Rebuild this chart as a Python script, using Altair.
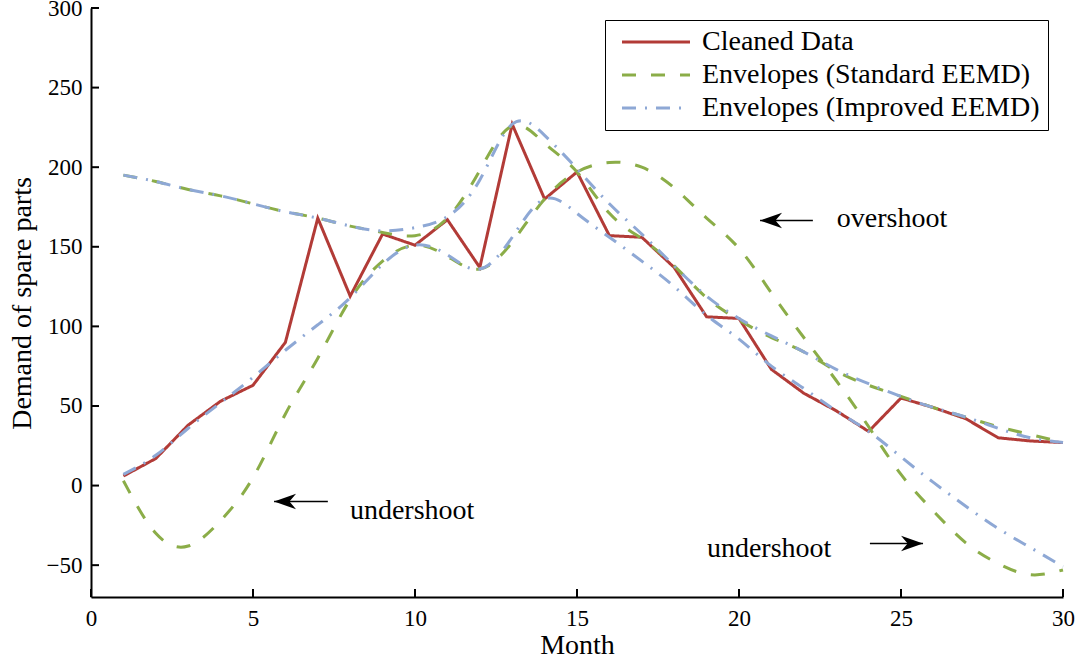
import altair as alt
import pandas as pd

# ---------------- data ----------------
months = list(range(1, 31))
cleaned = [6, 17, 38, 53, 63, 90, 168, 119, 158, 151, 167, 137, 227, 180, 197,
           157, 156, 137, 106, 105, 73, 58, 47, 34, 55, 49, 42, 30, 28, 27]
std_upper = [195, 191, 186, 182, 177, 172, 168, 163, 159, 157, 168, 198, 226, 215, 197,
             171, 155, 138, 118, 104, 93, 84, 72, 63, 56, 49, 43, 37, 32, 27]
std_lower = [3, -30, -38, -22, 5, 45, 80, 117, 141, 151, 144, 136, 153, 180, 197,
             203, 200, 187, 168, 149, 121, 93, 66, 37, 7, -16, -36, -49, -56, -53]
imp_upper = [195, 191, 186, 182, 177, 172, 168, 163, 160, 162, 169, 192, 227, 220, 199,
             177, 158, 138, 119, 105, 94, 84, 73, 64, 56, 49, 43, 36, 30, 27]
imp_lower = [7, 19, 36, 52, 68, 85, 101, 118, 139, 151, 145, 136, 156, 180, 171,
             156, 141, 125, 107, 92, 75, 61, 47, 34, 18, 2, -13, -27, -39, -51]

series_names = ["Cleaned Data", "Envelopes (Standard EEMD)", "Envelopes (Improved EEMD)"]

x_ticks = [0, 5, 10, 15, 20, 25, 30]
y_ticks = [-50, 0, 50, 100, 150, 200, 250, 300]

ann_text = ["overshoot", "undershoot", "undershoot"]
ann_x = [23.02, 7.99, 19.01]
ann_y = [167.7, -15.7, -39.6]
arrow_tail = [22.28, 7.31, 24.04]
arrow_tip = [20.65, 5.65, 25.68]
arrow_y = [166.5, -10.0, -36.4]
arrow_dir = ["left", "left", "right"]

# ---------------- styling ----------------
FONT = "Liberation Serif"
colors = ["#B23B37", "#8BAD48", "#8EA8D5"]
dashes = [[1, 0], [14, 15], [14, 9, 2, 9]]
W, H = 972, 589
XMIN, XMAX = 0, 30
YMIN, YMAX = -70, 300
TICK_PX = 8

# ---------------- tables ----------------
red_df = pd.DataFrame({"month": months, "value": cleaned,
                       "series": series_names[0], "curve": "cleaned"})
env_parts = []
for name, cid, vals in [(series_names[1], "std_up", std_upper),
                        (series_names[1], "std_lo", std_lower),
                        (series_names[2], "imp_up", imp_upper),
                        (series_names[2], "imp_lo", imp_lower)]:
    env_parts.append(pd.DataFrame({"month": months, "value": vals,
                                   "series": name, "curve": cid}))
env_df = pd.concat(env_parts, ignore_index=True)

xs = alt.Scale(domain=[XMIN, XMAX], nice=False, zero=False)
ys = alt.Scale(domain=[YMIN, YMAX], nice=False, zero=False)
color_scale = alt.Scale(domain=series_names, range=colors)
dash_scale = alt.Scale(domain=series_names, range=dashes)

# legend sample: a long horizontal line drawn by a custom symbol path
LEG_SIZE = 514  # sqrt -> ~22.7 px unit box, path spans 3x that = ~68 px
legend = alt.Legend(
    title=None, orient="none", legendX=514, legendY=12,
    symbolType="M -3 0 L 3 0", symbolSize=LEG_SIZE, symbolStrokeWidth=3,
    labelFont=FONT, labelFontSize=28, labelColor="black", labelOffset=32,
    rowPadding=5, padding=8, symbolOffset=29,
    strokeColor="black", fillColor="white", labelLimit=600,
)

x_axis = alt.Axis(values=x_ticks, format="d", ticks=False, grid=False,
                  domainColor="black", domainWidth=2, labelFlush=False,
                  labelFont=FONT, labelFontSize=23, labelColor="black", labelPadding=10,
                  title="Month", titleFont=FONT, titleFontSize=28,
                  titleFontWeight="normal", titleColor="black",
                  titleX=W / 2, titleY=48, titleBaseline="middle")
y_axis = alt.Axis(values=y_ticks, format="d", ticks=False, grid=False,
                  domainColor="black", domainWidth=2,
                  labelFont=FONT, labelFontSize=23, labelColor="black", labelPadding=9,
                  title="Demand of spare parts", titleFont=FONT, titleFontSize=28,
                  titleFontWeight="normal", titleColor="black",
                  titleX=-69, titleY=295, titleAngle=270,
                  titleBaseline="middle", titleAlign="center")

red = alt.Chart(red_df).mark_line(strokeWidth=3).encode(
    x=alt.X("month:Q", scale=xs, axis=x_axis),
    y=alt.Y("value:Q", scale=ys, axis=y_axis),
    color=alt.Color("series:N", scale=color_scale, legend=legend),
    strokeDash=alt.StrokeDash("series:N", scale=dash_scale, legend=legend),
)

env = alt.Chart(env_df).mark_line(strokeWidth=3, interpolate="natural").encode(
    x=alt.X("month:Q", scale=xs),
    y=alt.Y("value:Q", scale=ys),
    color=alt.Color("series:N", scale=color_scale, legend=legend),
    strokeDash=alt.StrokeDash("series:N", scale=dash_scale, legend=legend),
    detail="curve:N",
)

# inward tick marks
x_tick_len = TICK_PX * (YMAX - YMIN) / H
y_tick_len = TICK_PX * (XMAX - XMIN) / W
xt_df = pd.DataFrame({"x": x_ticks, "y0": YMIN, "y1": YMIN + x_tick_len})
yt_df = pd.DataFrame({"y": y_ticks, "x0": XMIN, "x1": XMIN + y_tick_len})
xticks = alt.Chart(xt_df).mark_rule(color="black", strokeWidth=2).encode(
    x=alt.X("x:Q", scale=xs), y=alt.Y("y0:Q", scale=ys), y2="y1:Q")
yticks = alt.Chart(yt_df).mark_rule(color="black", strokeWidth=2).encode(
    y=alt.Y("y:Q", scale=ys), x=alt.X("x0:Q", scale=xs), x2="x1:Q")

# annotations
ann_df = pd.DataFrame({"t": ann_text, "x": ann_x, "y": ann_y})
texts = alt.Chart(ann_df).mark_text(font=FONT, fontSize=28, align="left",
                                    baseline="middle", color="black").encode(
    x=alt.X("x:Q", scale=xs), y=alt.Y("y:Q", scale=ys), text="t:N")

arr_df = pd.DataFrame({"tail": arrow_tail, "tip": arrow_tip, "y": arrow_y, "dir": arrow_dir})
shafts = alt.Chart(arr_df).mark_rule(color="black", strokeWidth=1.5).encode(
    x=alt.X("tail:Q", scale=xs), x2="tip:Q", y=alt.Y("y:Q", scale=ys))
left_head = "M 0 0 L 2 -0.7 L 1.4 0 L 2 0.7 Z"
right_head = "M 0 0 L -2 -0.7 L -1.4 0 L -2 0.7 Z"
heads = alt.Chart(arr_df).mark_point(filled=True, color="black", opacity=1,
                                     size=484, strokeWidth=0).encode(
    x=alt.X("tip:Q", scale=xs), y=alt.Y("y:Q", scale=ys),
    shape=alt.Shape("dir:N", scale=alt.Scale(domain=["left", "right"],
                                             range=[left_head, right_head]),
                    legend=None))

chart = alt.layer(red, env, xticks, yticks, shafts, heads, texts).properties(
    width=W, height=H,
    autosize=alt.AutoSizeParams(type="none"),
    padding={"left": 91, "top": 8, "right": 18, "bottom": 65},
    background="white",
).configure_view(stroke=None)

chart.save("out.html", embed_options={"renderer": "svg", "actions": False})
